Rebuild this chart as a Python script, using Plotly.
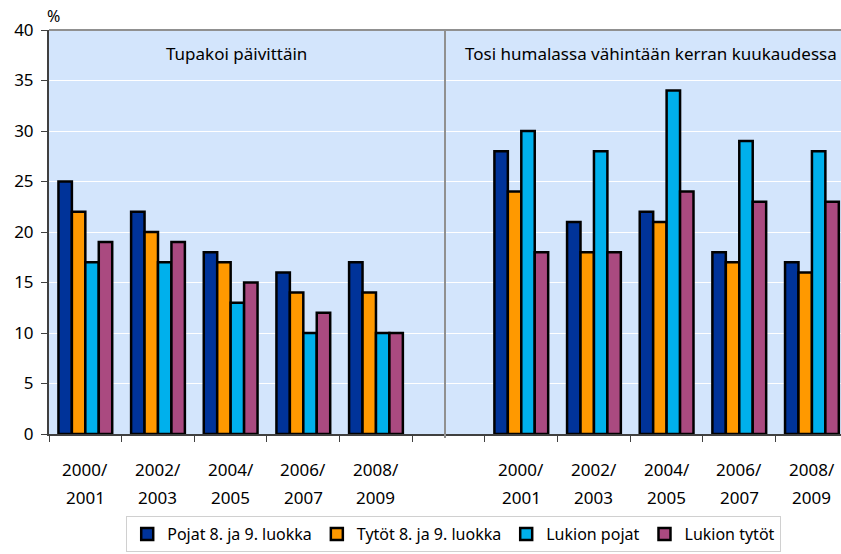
import plotly.graph_objects as go

# data (%)
years = ["2000/2001", "2002/2003", "2004/2005", "2006/2007", "2008/2009"]
series_names = ["Pojat 8. ja 9. luokka", "Tytöt 8. ja 9. luokka", "Lukion pojat", "Lukion tytöt"]
colors = ["#003399", "#FF9900", "#00B0EC", "#AA4A80"]

smoking = [
    [25, 22, 18, 16, 17],   # Pojat 8. ja 9. luokka
    [22, 20, 17, 14, 14],   # Tytöt 8. ja 9. luokka
    [17, 17, 13, 10, 10],   # Lukion pojat
    [19, 19, 15, 12, 10],   # Lukion tytöt
]
drunk = [
    [28, 21, 22, 18, 17],
    [24, 18, 21, 17, 16],
    [30, 28, 34, 29, 28],
    [18, 18, 24, 23, 23],
]

panel_titles = ["Tupakoi päivittäin", "Tosi humalassa vähintään kerran kuukaudessa"]

# categories: left panel, an empty gap, right panel (trailing space keeps names unique)
left_cats = years
right_cats = [y + " " for y in years]
gap = ["  "]
categories = left_cats + gap + right_cats

FONT = "Noto Sans"

fig = go.Figure()
for i, name in enumerate(series_names):
    fig.add_trace(go.Bar(
        x=left_cats + right_cats,
        y=smoking[i] + drunk[i],
        name=name,
        marker=dict(color=colors[i], line=dict(color="#000000", width=2.5)),
    ))

fig.update_layout(
    width=841,
    height=554,
    barmode="group",
    bargap=0.26,
    bargroupgap=0,
    plot_bgcolor="#D3E5FC",
    paper_bgcolor="#FFFFFF",
    margin=dict(l=49, r=0, t=30, b=120, autoexpand=False),
    font=dict(family=FONT, size=17, color="#000000"),
    showlegend=True,
    legend=dict(
        orientation="h",
        x=0.511, xanchor="center",
        y=-0.203, yanchor="top",
        bordercolor="#D0D0D0", borderwidth=1,
        font=dict(size=16),
        traceorder="normal",
        tracegroupgap=0,
    ),
)

fig.update_xaxes(
    type="category",
    categoryorder="array",
    categoryarray=categories,
    range=[-0.5, 10.4],
    tickson="boundaries",
    ticks="outside",
    ticklen=6,
    tickcolor="#404040",
    showticklabels=False,
    showline=True,
    linecolor="#404040",
    linewidth=2,
    showgrid=False,
    zeroline=False,
    automargin=False,
)

fig.update_yaxes(
    range=[0, 40],
    dtick=5,
    ticks="outside",
    ticklen=6,
    tickcolor="#404040",
    showline=True,
    linecolor="#404040",
    linewidth=2,
    showgrid=True,
    gridcolor="#FFFFFF",
    gridwidth=1,
    zeroline=False,
    tickfont=dict(size=17),
    ticklabelstandoff=4,
    automargin=False,
)

# two-line tick labels under each group
for idx, cat in enumerate(categories):
    label = cat.strip()
    if not label:
        continue
    first, second = label.split("/")
    fig.add_annotation(x=idx, y=-0.089, xref="x", yref="paper", text=first + "/",
                       showarrow=False, font=dict(size=17), yanchor="middle")
    fig.add_annotation(x=idx, y=-0.158, xref="x", yref="paper", text=second,
                       showarrow=False, font=dict(size=17), yanchor="middle")

# panel titles
fig.add_annotation(x=2.08, y=0.942, xref="x", yref="paper", text=panel_titles[0],
                   showarrow=False, font=dict(size=17), yanchor="middle")
fig.add_annotation(x=7.78, y=0.942, xref="x", yref="paper", text=panel_titles[1],
                   showarrow=False, font=dict(size=17), yanchor="middle")

# unit label
fig.add_annotation(x=0, y=1.0, xref="paper", yref="paper", text="%", showarrow=False,
                   font=dict(size=16), xanchor="left", yanchor="bottom", yshift=1, xshift=-4)

# divider between panels and the top border
fig.add_shape(type="line", x0=4.95, x1=4.95, xref="x", y0=-0.01, y1=1, yref="paper",
              line=dict(color="#909090", width=2))
fig.add_shape(type="line", x0=0, x1=1, xref="paper", y0=1, y1=1, yref="paper",
              line=dict(color="#909090", width=2))

# drop the default page margin so the figure fills the window
fig.write_html("out.html", config={"displayModeBar": False},
               post_script="document.body.style.margin='0';")
